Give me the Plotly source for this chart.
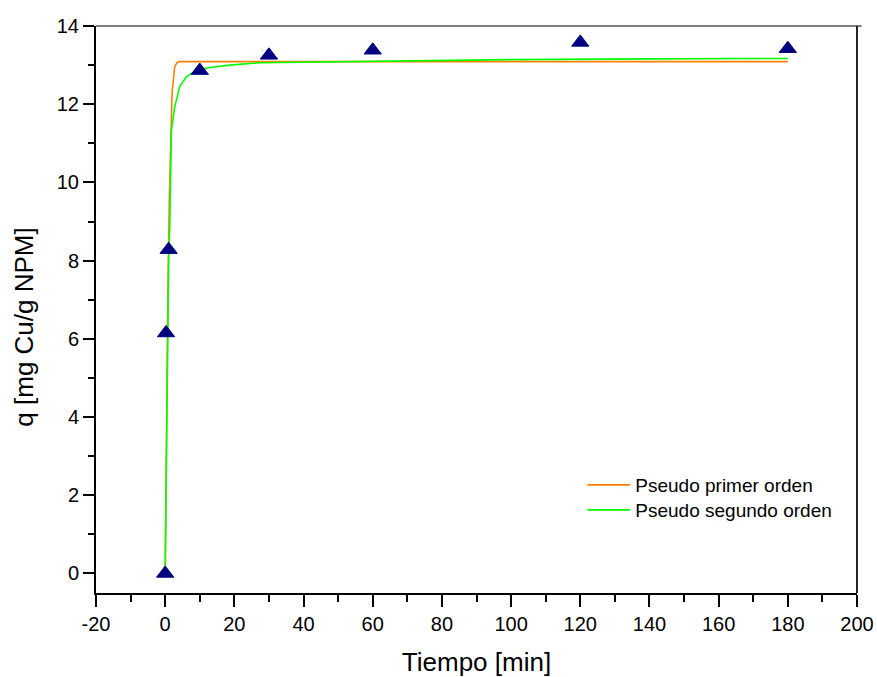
import plotly.graph_objects as go

# Experimental points
t_exp = [0, 0.25, 1, 10, 30, 60, 120, 180]
q_exp = [0.0, 6.15, 8.28, 12.86, 13.25, 13.38, 13.58, 13.42]

# Pseudo first order curve
t_pfo = [0, 0.2, 0.5, 0.8, 1.2, 1.6, 2.0, 2.75, 3.4, 4.0, 20, 60, 120, 180]
q_pfo = [0.0, 2.0, 4.6, 7.3, 9.6, 11.4, 12.3, 12.96, 13.06, 13.09, 13.09, 13.09, 13.09, 13.09]

# Pseudo second order curve
t_pso = [0, 0.5, 1.0, 1.3, 1.8, 2.75, 4.2, 6.1, 9.0, 12.9, 18.7, 27.4, 36, 60, 100, 140, 180]
q_pso = [0.0, 4.8, 8.0, 8.8, 11.34, 11.93, 12.45, 12.70, 12.87, 12.94, 13.0, 13.06, 13.07, 13.11, 13.14, 13.16, 13.17]

x_tick_vals = [-20, 0, 20, 40, 60, 80, 100, 120, 140, 160, 180, 200]
x_tick_text = ["-20", "0", "20", "40", "60", "80", "100", "120", "140", "160", "180", "200"]

FONT = "Liberation Sans, Arial, sans-serif"

fig = go.Figure()
fig.add_trace(go.Scatter(x=t_pfo, y=q_pfo, mode="lines", name="Pseudo primer orden",
                         line=dict(color="#FF8000", width=1.6), legend="legend"))
fig.add_trace(go.Scatter(x=t_pso, y=q_pso, mode="lines", name="Pseudo segundo orden",
                         line=dict(color="#00FF00", width=1.6), legend="legend2"))
fig.add_trace(go.Scatter(x=t_exp, y=q_exp, mode="markers", showlegend=False,
                         marker=dict(symbol="triangle-up", size=15, color="#000080",
                                     line=dict(color="#000080", width=1))))

leg_common = dict(xanchor="left", yanchor="middle", bgcolor="rgba(0,0,0,0)",
                  font=dict(size=19, family=FONT), itemwidth=43, borderwidth=0)

fig.update_layout(
    width=877, height=677,
    margin=dict(l=96, r=20, t=26, b=84, autoexpand=False),
    paper_bgcolor="white", plot_bgcolor="white",
    font=dict(family=FONT, color="black", size=20),
    showlegend=True,
    legend=dict(x=0.639, y=(593 - 485) / 567, **leg_common),
    legend2=dict(x=0.639, y=(593 - 510) / 567, **leg_common),
    xaxis=dict(range=[-20, 200], tickmode="array", tickvals=x_tick_vals, ticktext=x_tick_text,
               ticks="outside", ticklen=12, tickwidth=2, tickcolor="black",
               showline=True, linecolor="black", linewidth=2, mirror=False,
               showgrid=False, zeroline=False, automargin=False,
               minor=dict(dtick=10, tick0=0, ticks="outside", ticklen=7, tickwidth=2, tickcolor="black"),
               title=dict(text="Tiempo [min]", font=dict(size=26, family=FONT), standoff=20),
               tickfont=dict(size=20)),
    yaxis=dict(range=[-0.5, 14], tickmode="linear", tick0=0, dtick=2,
               ticks="outside", ticklen=11, tickwidth=2, tickcolor="black",
               showline=True, linecolor="black", linewidth=2, mirror=False,
               showgrid=False, zeroline=False, automargin=False,
               minor=dict(dtick=1, tick0=0, ticks="outside", ticklen=6, tickwidth=2, tickcolor="black"),
               tickfont=dict(size=20)),
    annotations=[dict(text="q [mg Cu/g NPM]", xref="paper", yref="paper",
                      x=-0.0946, y=0.468, xanchor="center", yanchor="middle",
                      textangle=-90, showarrow=False, font=dict(size=26, family=FONT))],
    shapes=[
        dict(type="line", xref="paper", yref="paper", x0=0, x1=1.006, y0=1, y1=1,
             line=dict(color="#555555", width=1.3)),
        dict(type="line", xref="paper", yref="paper", x0=1, x1=1, y0=0, y1=1,
             line=dict(color="black", width=1.7)),
    ],
)

fig.write_html("out.html")
